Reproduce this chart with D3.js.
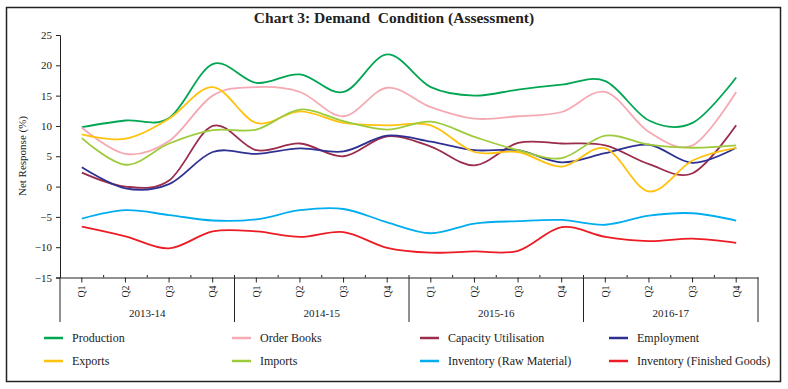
<!DOCTYPE html>
<html>
<head>
<meta charset="utf-8">
<title>Chart 3: Demand Condition (Assessment)</title>
<script src="https://d3js.org/d3.v7.min.js"></script>
<style>
  body { margin: 0; background: #fff; }
  text { font-family: "Liberation Serif", "DejaVu Serif", serif; fill: #222; }
</style>
</head>
<body>
<div id="chart"></div>
<script>
// data
var years = ["2013-14", "2014-15", "2015-16", "2016-17"];
var quarters = ["Q1", "Q2", "Q3", "Q4"];
var yTicks = [-15, -10, -5, 0, 5, 10, 15, 20, 25];

var production = [9.8, 10.9, 11.3, 20.2, 17.1, 18.5, 15.6, 21.8, 16.4, 15.0, 16.0, 16.8, 17.4, 10.9, 10.5, 18.0];
var orderBooks = [9.7, 5.4, 7.5, 15.0, 16.4, 15.6, 11.6, 16.3, 13.1, 11.2, 11.6, 12.3, 15.6, 9.0, 6.8, 15.6];
var capacityUtilisation = [2.3, 0.0, 1.0, 10.0, 6.0, 7.1, 5.0, 8.3, 6.6, 3.5, 7.2, 7.1, 6.8, 3.7, 2.2, 10.1];
var employment = [3.2, -0.3, 0.4, 5.7, 5.4, 6.3, 5.8, 8.4, 7.4, 6.0, 6.0, 4.0, 5.5, 6.9, 3.9, 6.4];
var exportsS = [8.6, 7.9, 11.2, 16.4, 10.5, 12.4, 10.5, 10.1, 10.1, 5.7, 5.7, 3.3, 6.3, -0.8, 4.3, 6.4];
var imports = [8.0, 3.6, 7.1, 9.3, 9.4, 12.7, 10.8, 9.4, 10.7, 8.2, 6.0, 4.7, 8.4, 6.9, 6.4, 6.8];
var invRaw = [-5.3, -3.9, -4.7, -5.6, -5.4, -3.9, -3.7, -5.9, -7.7, -6.1, -5.7, -5.5, -6.3, -4.8, -4.4, -5.6];
var invFinished = [-6.6, -8.2, -10.2, -7.4, -7.4, -8.3, -7.5, -10.1, -10.9, -10.7, -10.6, -6.7, -8.3, -9.0, -8.6, -9.3];

var series = [
  {name: "Production", values: production, color: "#00a651"},
  {name: "Order Books", values: orderBooks, color: "#f5a9b2"},
  {name: "Capacity Utilisation", values: capacityUtilisation, color: "#9b2c4b"},
  {name: "Employment", values: employment, color: "#2e3192"},
  {name: "Exports", values: exportsS, color: "#ffc20e"},
  {name: "Imports", values: imports, color: "#9dcb3c"},
  {name: "Inventory (Raw Material)", values: invRaw, color: "#00aeef"},
  {name: "Inventory (Finished Goods)", values: invFinished, color: "#ed1c24"}
];

var W = 788, H = 389;
var plotL = 60, plotR = 758, plotT = 35, plotB = 277.5;

var svg = d3.select("#chart").append("svg")
  .attr("width", W).attr("height", H);

// frame
svg.append("rect")
  .attr("x", 6.5).attr("y", 7.5).attr("width", 774).attr("height", 374)
  .attr("fill", "none").attr("stroke", "#222").attr("stroke-width", 1.5);

// title
svg.append("text")
  .attr("x", 394).attr("y", 23)
  .attr("text-anchor", "middle")
  .attr("xml:space", "preserve")
  .style("font-size", "15.5px").style("font-weight", "bold")
  .text("Chart 3: Demand  Condition (Assessment)");

// keys for each quarter
var keys = [];
years.forEach(function (yr) { quarters.forEach(function (q) { keys.push(yr + "|" + q); }); });

var x = d3.scaleBand().domain(keys).range([plotL, plotR]);
var y = d3.scaleLinear().domain([-15, 25]).range([plotB, plotT]);
var cx = function (k) { return x(k) + x.bandwidth() / 2; };

// y axis
var yAxis = svg.append("g")
  .attr("transform", "translate(" + plotL + ",0)")
  .call(d3.axisLeft(y).tickValues(yTicks).tickSize(4).tickPadding(4));
yAxis.select(".domain").attr("stroke", "#222");
yAxis.selectAll("line").attr("stroke", "#222");
yAxis.selectAll("text").style("font-size", "11px").style("font-family", "Liberation Serif, serif").attr("fill", "#222");

svg.append("text")
  .attr("transform", "translate(26,156) rotate(-90)")
  .attr("text-anchor", "middle")
  .style("font-size", "11px")
  .text("Net Response (%)");

// x axis
var xAxis = svg.append("g")
  .attr("transform", "translate(0," + plotB + ")")
  .call(d3.axisBottom(x).tickSizeInner(5).tickSizeOuter(0).tickFormat(function (k) { return k.split("|")[1]; }));
xAxis.select(".domain").attr("stroke", "#222");
xAxis.selectAll("line").attr("stroke", "#222");
xAxis.selectAll("text")
  .style("font-size", "10px").style("font-family", "Liberation Serif, serif").attr("fill", "#222")
  .attr("text-anchor", "middle")
  .attr("transform", "translate(0,14) rotate(-90)")
  .attr("x", 0).attr("y", 0).attr("dy", "0.35em");

// small marks between categories
svg.append("g").selectAll("line")
  .data(keys.slice(1))
  .enter().append("line")
  .attr("x1", function (k) { return x(k); }).attr("x2", function (k) { return x(k); })
  .attr("y1", plotB - 2.5).attr("y2", plotB)
  .attr("stroke", "#222");

// year separators and labels
var yearEdges = years.map(function (yr) { return x(yr + "|Q1"); }).concat([plotR]);
svg.append("g").selectAll("line")
  .data(yearEdges)
  .enter().append("line")
  .attr("x1", function (d) { return d; }).attr("x2", function (d) { return d; })
  .attr("y1", plotB).attr("y2", 322)
  .attr("stroke", "#222");

svg.append("g").selectAll("text")
  .data(years)
  .enter().append("text")
  .attr("x", function (yr, i) { return (yearEdges[i] + yearEdges[i + 1]) / 2; })
  .attr("y", 317)
  .attr("text-anchor", "middle")
  .style("font-size", "11px")
  .text(function (d) { return d; });

// lines
var line = d3.line()
  .x(function (d, i) { return cx(keys[i]); })
  .y(function (d) { return y(d); })
  .curve(d3.curveCatmullRom.alpha(0));

svg.append("g").selectAll("path")
  .data(series)
  .enter().append("path")
  .attr("d", function (s) { return line(s.values); })
  .attr("fill", "none")
  .attr("stroke", function (s) { return s.color; })
  .attr("stroke-width", 1.8);

// legend
var colX = [44, 232, 420, 609];
var rowY = [338, 361];
var leg = svg.append("g").selectAll("g")
  .data(series)
  .enter().append("g")
  .attr("transform", function (s, i) { return "translate(" + colX[i % 4] + "," + rowY[Math.floor(i / 4)] + ")"; });
leg.append("line")
  .attr("x1", 0).attr("x2", 19).attr("y1", 0).attr("y2", 0)
  .attr("stroke", function (s) { return s.color; })
  .attr("stroke-width", 2.5);
leg.append("text")
  .attr("x", 28).attr("y", 0).attr("dy", "0.35em")
  .style("font-size", "12px")
  .text(function (s) { return s.name; });
</script>
</body>
</html>
